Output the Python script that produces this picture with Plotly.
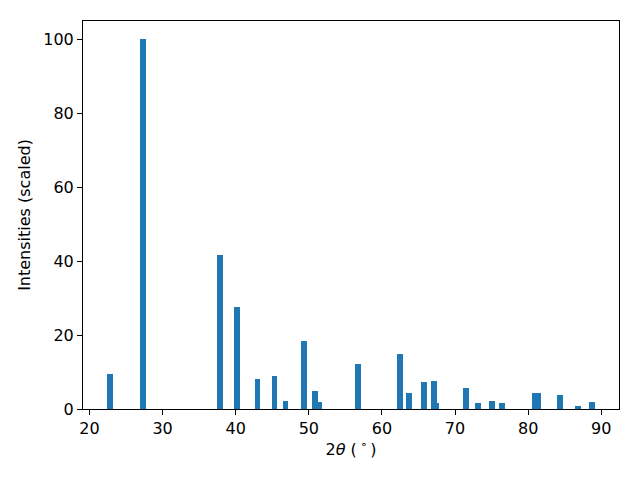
import plotly.graph_objects as go

two_theta = [22.84, 27.36, 37.9, 40.2, 42.97, 45.3, 46.8, 49.3, 50.8, 51.35,
             56.7, 62.45, 63.7, 65.75, 67.1, 67.45, 71.54, 73.1, 75.0, 76.4,
             80.9, 81.3, 84.4, 86.8, 88.7]
intensity = [9.6, 100.0, 41.6, 27.5, 8.0, 8.8, 2.3, 18.5, 5.0, 2.0,
             12.3, 15.0, 4.4, 7.4, 7.7, 1.5, 5.8, 1.5, 2.3, 1.5,
             4.2, 4.4, 3.9, 0.7, 1.8]
x_ticks = [20, 30, 40, 50, 60, 70, 80, 90]
y_ticks = [0, 20, 40, 60, 80, 100]

fig = go.Figure()
fig.add_trace(go.Bar(x=two_theta, y=intensity, width=0.8,
                     marker=dict(color="#1f77b4", line=dict(width=0))))

font = dict(family="DejaVu Sans", size=16, color="black")
axis_common = dict(showline=True, linecolor="black", linewidth=1, mirror=True,
                   ticks="outside", ticklen=5, tickwidth=1, tickcolor="black",
                   showgrid=False, zeroline=False, tickfont=font)
fig.update_xaxes(range=[19.11, 92.43], tickvals=x_ticks,
                 title=dict(text="2<i>θ</i> (\u2009<sup>∘</sup>\u2009)", font=font, standoff=6),
                 **axis_common)
fig.update_yaxes(range=[0, 105.0], tickvals=y_ticks,
                 title=dict(text="Intensities (scaled)", font=font, standoff=8),
                 **axis_common)
fig.update_layout(width=632, height=472, plot_bgcolor="white", paper_bgcolor="white",
                  margin=dict(l=75, r=21, t=13, b=71), showlegend=False, font=font,
                  bargap=0)
fig.write_html("out.html")
